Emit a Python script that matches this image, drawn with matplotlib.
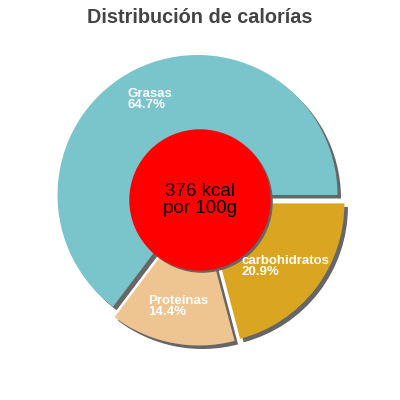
import matplotlib.pyplot as plt
from matplotlib.patches import Circle

plt.rcParams['font.family'] = ['Liberation Sans', 'DejaVu Sans']

# Calorie distribution data
labels = ["Grasas", "Proteínas", "carbohidratos"]
percent = [64.7, 14.4, 20.9]
colors = ["#7AC4CC", "#EEC591", "#DAA520"]
label_pos = [(-0.52, 0.80), (-0.37, -0.68), (0.30, -0.39)]

center_text = "376 kcal\npor 100g"
title = "Distribución de calorías"

fig = plt.figure(figsize=(4, 4), dpi=100)
ax = fig.add_axes([0, 0, 1, 1])

explode = [0.04] * len(percent)

# Shadow pie
ax.pie(percent, colors=["#666666"] * len(percent), startangle=0,
       counterclock=True, explode=explode, radius=1.0,
       center=(0.025, -0.025), wedgeprops=dict(linewidth=0), frame=True)
# Main pie
ax.pie(percent, colors=colors, startangle=0, counterclock=True,
       explode=explode, radius=1.0, center=(0, 0),
       wedgeprops=dict(linewidth=0), frame=True)

ax.set_xlim(-1.4286, 1.4286)
ax.set_ylim(-1.4286, 1.4286)
ax.set_aspect('equal')
ax.axis('off')

# Center circle with shadow
ax.add_patch(Circle((0.015, -0.015), 0.5, color="#666666", zorder=5))
ax.add_patch(Circle((0, 0), 0.5, color="#FF0000", zorder=6))
ax.text(0, 0.0, center_text, ha='center', va='center', fontsize=13.5,
        color='black', zorder=7, linespacing=0.95)

for lab, pct, (x, y) in zip(labels, percent, label_pos):
    ax.text(x, y, f"{lab}\n{pct}%", ha='left', va='top', fontsize=9.5,
            fontweight='bold', color='white', zorder=7, linespacing=0.9)

fig.text(0.5, 0.98, title, ha='center', va='top', fontsize=14.3,
         fontweight='bold', color='#444444')

fig.savefig("out.png", dpi=100)
